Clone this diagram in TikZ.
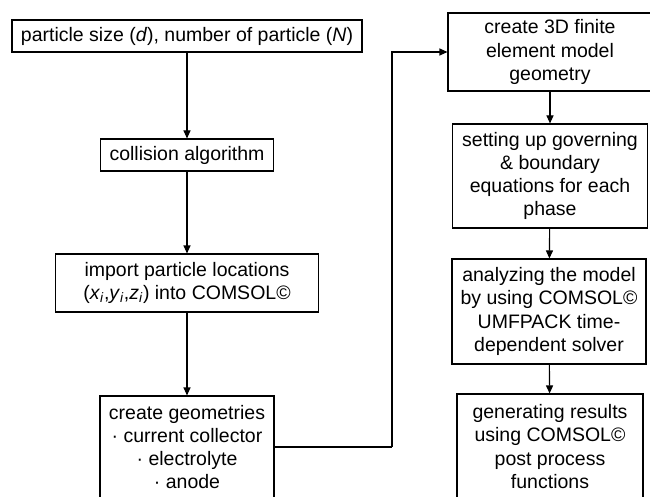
\documentclass[tikz,border=0pt]{standalone}
\usepackage{fontspec}
\setmainfont{Liberation Sans}
\usetikzlibrary{arrows.meta}
\begin{document}
\begin{tikzpicture}[x=1pt,y=-1pt,
  stepbox/.style={draw, line width=1.1pt, align=center, inner sep=0pt,
    font=\fontsize{19.5}{23.3}\selectfont},
  flow/.style={line width=1.1pt, -{Triangle[length=8pt,width=7pt]}},
  link/.style={line width=1.1pt}]
\clip (0,0) rectangle (650,497);

% left column: particle packing
\node[stepbox, minimum width=350pt, minimum height=32pt] (size) at (187,36)
  {particle size (\textit{d}), number of particle (\textit{N})};
\node[stepbox, minimum width=173pt, minimum height=32pt] (coll) at (187,155)
  {collision algorithm};
\node[stepbox, minimum width=263pt, minimum height=58pt] (import) at (187,283)
  {import particle locations\\(\textit{x}\textsubscript{\textit{i}},\textit{y}\textsubscript{\textit{i}},\textit{z}\textsubscript{\textit{i}}) into COMSOL©};
\node[stepbox, minimum width=174pt, minimum height=102pt] (geom) at (187,447)
  {create geometries\\· current collector\\· electrolyte\\· anode};

% right column: finite element model
\node[stepbox, minimum width=204pt, minimum height=78pt] (fem) at (550,52)
  {create 3D finite\\element model\\geometry};
\node[stepbox, minimum width=195pt, minimum height=104pt] (gov) at (550,176)
  {setting up governing\\\& boundary\\equations for each\\phase};
\node[stepbox, minimum width=194pt, minimum height=105pt] (solve) at (549,311.5)
  {analyzing the model\\by using COMSOL©\\UMFPACK time-\\dependent solver};
\node[stepbox, minimum width=186pt, minimum height=105pt] (post) at (550,446.5)
  {generating results\\using COMSOL©\\post process\\functions};

% connectors
\draw[flow] (size) -- (coll);
\draw[flow] (coll) -- (import);
\draw[flow] (import) -- (geom);
\coordinate (bend) at (392,447);
\draw[link] (geom.east) -- (bend);
\draw[flow] (bend) |- (fem.west);
\draw[flow] (fem) -- (gov);
\draw[flow] (gov) -- (solve);
\draw[flow] (solve) -- (post);
\end{tikzpicture}
\end{document}
